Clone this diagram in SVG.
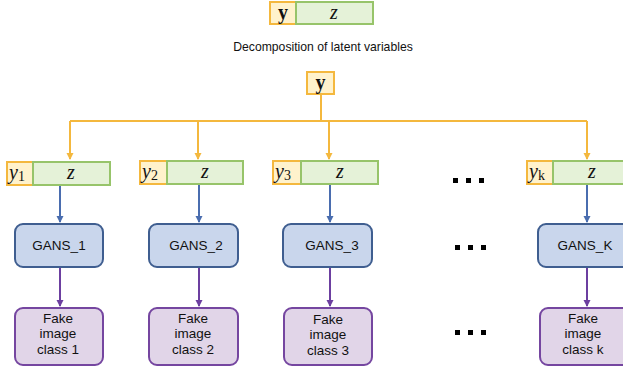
<svg xmlns="http://www.w3.org/2000/svg" width="623" height="366" viewBox="0 0 623 366">
<defs>
<style>
.yb{fill:#FFF2CC;stroke:#F4B83E;stroke-width:2}
.zb{fill:#E5F2D8;stroke:#97C46A;stroke-width:2}
.gb{fill:#C9D6EC;stroke:#3F5E90;stroke-width:2}
.fb{fill:#E1D5E8;stroke:#7546A0;stroke-width:2}
.mi{font-family:"Liberation Serif","DejaVu Serif",serif;font-style:italic;font-size:20px;fill:#111}
.mb{font-family:"Liberation Serif","DejaVu Serif",serif;font-weight:bold;font-size:20px;fill:#111}
.sub{font-style:normal;font-size:14px}
.t{font-family:"Liberation Sans",Arial,sans-serif;font-size:13.5px;fill:#111;text-anchor:middle}
.cap{font-family:"Liberation Sans",Arial,sans-serif;font-size:12.2px;fill:#111;text-anchor:middle}
.oc{fill:none;stroke:#F4B83E;stroke-width:2}
.bc{fill:none;stroke:#4A6DAF;stroke-width:2}
.pc{fill:none;stroke:#6C3FA0;stroke-width:2}
.dot{fill:#000}
</style>
<marker id="ao" markerWidth="8" markerHeight="8" refX="6" refY="4" orient="auto" markerUnits="userSpaceOnUse"><path d="M0,0.5 L7,4 L0,7.5 z" fill="#F4B83E"/></marker>
<marker id="ab" markerWidth="8" markerHeight="8" refX="6" refY="4" orient="auto" markerUnits="userSpaceOnUse"><path d="M0,0.5 L7,4 L0,7.5 z" fill="#4A6DAF"/></marker>
<marker id="ap" markerWidth="8" markerHeight="8" refX="6" refY="4" orient="auto" markerUnits="userSpaceOnUse"><path d="M0,0.5 L7,4 L0,7.5 z" fill="#6C3FA0"/></marker>
</defs>

<g id="top-latent">
<rect class="yb" x="270" y="2" width="26" height="22"/>
<rect class="zb" x="296" y="2" width="77" height="22"/>
<text class="mb" x="283" y="19" text-anchor="middle">y</text>
<text class="mi" x="334" y="19" text-anchor="middle">z</text>
</g>

<g id="caption">
<text class="cap" x="323" y="51">Decomposition of latent variables</text>
</g>

<g id="y-root">
<rect class="yb" x="307" y="72" width="27" height="22"/>
<text class="mb" x="320.5" y="89" text-anchor="middle">y</text>
</g>

<g id="connectors">
<path class="oc" d="M321,94 V121"/>
<path class="oc" d="M70,121 H587"/>
<path class="oc" d="M70,121 V159" marker-end="url(#ao)"/>
<path class="oc" d="M198,121 V159" marker-end="url(#ao)"/>
<path class="oc" d="M329,121 V159" marker-end="url(#ao)"/>
<path class="oc" d="M587,121 V159" marker-end="url(#ao)"/>
<path class="bc" d="M60,185 V222" marker-end="url(#ab)"/>
<path class="bc" d="M199,185 V222" marker-end="url(#ab)"/>
<path class="bc" d="M330,185 V222" marker-end="url(#ab)"/>
<path class="bc" d="M587,185 V222" marker-end="url(#ab)"/>
<path class="pc" d="M60,267 V306" marker-end="url(#ap)"/>
<path class="pc" d="M199,267 V306" marker-end="url(#ap)"/>
<path class="pc" d="M330,267 V306" marker-end="url(#ap)"/>
<path class="pc" d="M587,267 V306" marker-end="url(#ap)"/>
</g>

<g id="latent-1">
<rect class="yb" x="7" y="162" width="26" height="23"/>
<rect class="zb" x="33" y="162" width="77" height="23"/>
<text class="mi" x="9" y="179">y<tspan class="sub" dy="2">1</tspan></text>
<text class="mi" x="71" y="179" text-anchor="middle">z</text>
</g>
<g id="latent-2">
<rect class="yb" x="140" y="161" width="27" height="23"/>
<rect class="zb" x="167" y="161" width="76" height="23"/>
<text class="mi" x="142" y="178">y<tspan class="sub" dy="2">2</tspan></text>
<text class="mi" x="205" y="178" text-anchor="middle">z</text>
</g>
<g id="latent-3">
<rect class="yb" x="273" y="161" width="28" height="23"/>
<rect class="zb" x="301" y="161" width="77" height="23"/>
<text class="mi" x="275" y="178">y<tspan class="sub" dy="2">3</tspan></text>
<text class="mi" x="340" y="178" text-anchor="middle">z</text>
</g>
<g id="latent-k">
<rect class="yb" x="527" y="161" width="26" height="23"/>
<rect class="zb" x="553" y="161" width="78" height="23"/>
<text class="mi" x="529" y="178">y<tspan class="sub" dy="2" font-style="italic">k</tspan></text>
<text class="mi" x="592" y="178" text-anchor="middle">z</text>
</g>

<g id="dots-1">
<rect class="dot" x="453" y="178" width="5" height="5"/>
<rect class="dot" x="466" y="178" width="5" height="5"/>
<rect class="dot" x="479" y="178" width="5" height="5"/>
</g>

<g id="gans-1">
<rect class="gb" x="15" y="224" width="88" height="43" rx="8"/>
<text class="t" x="59" y="250">GANS_1</text>
</g>
<g id="gans-2">
<rect class="gb" x="149" y="224" width="89" height="43" rx="8"/>
<text class="t" x="196" y="250">GANS_2</text>
</g>
<g id="gans-3">
<rect class="gb" x="283" y="224" width="89" height="43" rx="8"/>
<text class="t" x="332" y="250">GANS_3</text>
</g>
<g id="dots-2">
<rect class="dot" x="455" y="245" width="5" height="5"/>
<rect class="dot" x="468" y="245" width="5" height="5"/>
<rect class="dot" x="481" y="245" width="5" height="5"/>
</g>
<g id="gans-k">
<rect class="gb" x="538" y="224" width="92" height="43" rx="8"/>
<text class="t" x="585" y="250">GANS_K</text>
</g>

<g id="fake-1">
<rect class="fb" x="15" y="308" width="88" height="57" rx="8"/>
<text class="t" x="58" y="323">Fake</text>
<text class="t" x="58" y="338">image</text>
<text class="t" x="58" y="354">class 1</text>
</g>
<g id="fake-2">
<rect class="fb" x="149" y="308" width="89" height="57" rx="8"/>
<text class="t" x="193" y="323">Fake</text>
<text class="t" x="193" y="338">image</text>
<text class="t" x="193" y="354">class 2</text>
</g>
<g id="fake-3">
<rect class="fb" x="284" y="308" width="88" height="57" rx="8"/>
<text class="t" x="328" y="324">Fake</text>
<text class="t" x="328" y="339">image</text>
<text class="t" x="328" y="355">class 3</text>
</g>
<g id="dots-3">
<rect class="dot" x="455" y="330" width="5" height="5"/>
<rect class="dot" x="468" y="330" width="5" height="5"/>
<rect class="dot" x="481" y="330" width="5" height="5"/>
</g>
<g id="fake-k">
<rect class="fb" x="540" y="308" width="90" height="57" rx="8"/>
<text class="t" x="583" y="323">Fake</text>
<text class="t" x="583" y="338">image</text>
<text class="t" x="583" y="354">class k</text>
</g>
</svg>
